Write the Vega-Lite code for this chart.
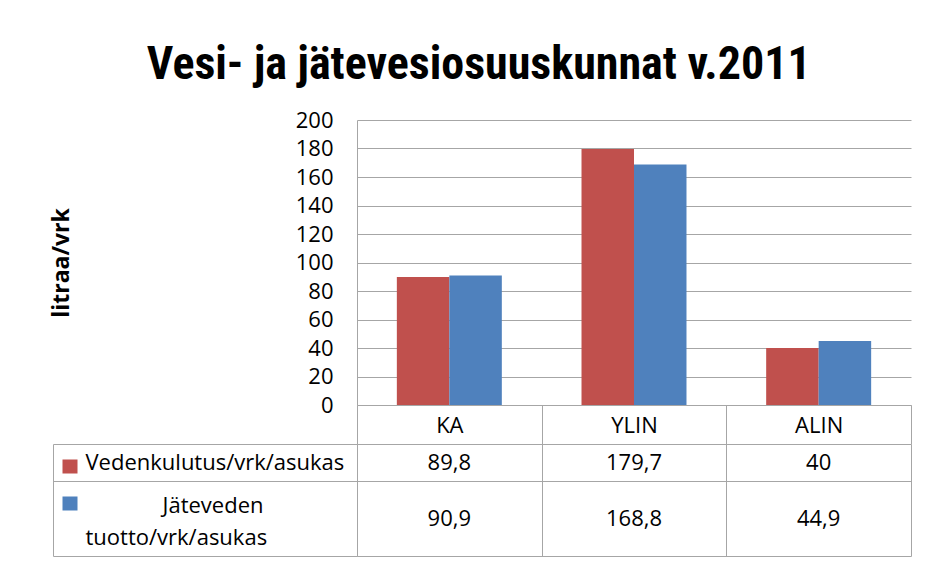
{
  "$schema": "https://vega.github.io/schema/vega-lite/v6.json",
  "padding": {"left": 46, "top": 42, "right": 17, "bottom": 5},
  "background": "white",
  "title": {
    "text": "Vesi- ja jätevesiosuuskunnat v.2011",
    "font": "Liberation Sans Narrow, Roboto Condensed, DejaVu Sans Condensed, Open Sans",
    "fontSize": 46,
    "fontWeight": "bold",
    "color": "#000000",
    "anchor": "middle",
    "offset": 20
  },
  "data": {
    "values": [
      {"kategoria": "KA", "sarja": "Vedenkulutus/vrk/asukas", "arvo": 89.8},
      {"kategoria": "KA", "sarja": "Jäteveden tuotto/vrk/asukas", "arvo": 90.9},
      {"kategoria": "YLIN", "sarja": "Vedenkulutus/vrk/asukas", "arvo": 179.7},
      {"kategoria": "YLIN", "sarja": "Jäteveden tuotto/vrk/asukas", "arvo": 168.8},
      {"kategoria": "ALIN", "sarja": "Vedenkulutus/vrk/asukas", "arvo": 40},
      {"kategoria": "ALIN", "sarja": "Jäteveden tuotto/vrk/asukas", "arvo": 44.9}
    ]
  },
  "bounds": "flush",
  "spacing": 39,
  "vconcat": [
    {
      "width": 554,
      "height": 285,
      "mark": {"type": "bar"},
      "encoding": {
        "x": {
          "field": "kategoria", "type": "nominal", "sort": ["KA", "YLIN", "ALIN"],
          "scale": {"paddingInner": 0, "paddingOuter": 0},
          "axis": {
            "title": null, "labelAngle": 0, "tickBand": "extent", "tickSize": 39,
            "labelPadding": -19, "labelBaseline": "middle"
          }
        },
        "xOffset": {
          "field": "sarja", "type": "nominal", "sort": ["Vedenkulutus/vrk/asukas", "Jäteveden tuotto/vrk/asukas"],
          "scale": {"paddingInner": 0, "paddingOuter": 0.759}
        },
        "y": {
          "field": "arvo", "type": "quantitative",
          "scale": {"domain": [0, 200]},
          "axis": {
            "values": [0, 20, 40, 60, 80, 100, 120, 140, 160, 180, 200],
            "title": "litraa/vrk", "titleFontSize": 23, "titleFontWeight": "bold", "titleColor": "#000000",
            "titlePadding": 222, "ticks": false, "labelPadding": 24, "grid": true
          }
        },
        "color": {
          "field": "sarja", "type": "nominal",
          "scale": {"domain": ["Vedenkulutus/vrk/asukas", "Jäteveden tuotto/vrk/asukas"], "range": ["#C0504D", "#4F81BD"]},
          "legend": null
        }
      }
    },
    {
      "width": 554,
      "height": 112,
      "layer": [
        {
          "transform": [{"filter": "datum.sarja == 'Vedenkulutus/vrk/asukas'"}],
          "mark": {"type": "text", "font": "Open Sans", "fontSize": 22, "color": "#000000"},
          "encoding": {
            "x": {
              "field": "kategoria", "type": "nominal", "sort": ["KA", "YLIN", "ALIN"],
              "scale": {"type": "band", "paddingInner": 0, "paddingOuter": 0},
              "axis": {"title": null, "grid": true, "tickBand": "extent", "labels": false, "ticks": false, "domain": false}
            },
            "y": {
              "field": "sarja", "type": "nominal",
              "scale": {"type": "band", "domain": ["Vedenkulutus/vrk/asukas", "Jäteveden tuotto/vrk/asukas", "tuotto/vrk/asukas"], "paddingInner": 0, "paddingOuter": 0},
              "axis": {
                "title": null, "orient": "left", "offset": 0,
                "tickBand": "extent", "tickSize": 304,
                "tickOpacity": {"condition": {"test": "datum.value === 'Jäteveden tuotto/vrk/asukas'", "value": 0}, "value": 1},
                "grid": true,
                "gridOpacity": {"condition": {"test": "datum.value === 'Jäteveden tuotto/vrk/asukas'", "value": 0}, "value": 1},
                "domain": true,
                "labelAlign": "left", "labelBaseline": "middle", "labelLimit": 400,
                "labelPadding": {"condition": {"test": "datum.value === 'Jäteveden tuotto/vrk/asukas'", "value": -109}, "value": -32},
                "labelOffset": {"condition": {"test": "datum.value === 'Jäteveden tuotto/vrk/asukas'", "value": 5}, "value": 0},
                "labelExpr": "datum.value === 'Jäteveden tuotto/vrk/asukas' ? 'Jäteveden' : datum.label"
              }
            },
            "text": {"field": "arvo", "type": "quantitative", "format": "~g"}
          }
        },
        {
          "transform": [{"filter": "datum.sarja == 'Jäteveden tuotto/vrk/asukas'"}],
          "mark": {"type": "text", "font": "Open Sans", "fontSize": 22, "color": "#000000"},
          "encoding": {
            "x": {
              "field": "kategoria", "type": "nominal", "sort": ["KA", "YLIN", "ALIN"],
              "scale": {"type": "band", "paddingInner": 0, "paddingOuter": 0},
              "axis": {"title": null, "grid": true, "tickBand": "extent", "labels": false, "ticks": false, "domain": false}
            },
            "y": {
              "field": "sarja", "type": "nominal", "bandPosition": 1,
              "axis": {
                "title": null, "orient": "left", "offset": 304,
                "domain": true, "labels": false, "grid": false,
                "ticks": true, "tickSize": -24, "tickWidth": 14, "tickOffset": 3,
                "tickDash": [0, 9, 15, 60],
                "tickColor": {"condition": [
                  {"test": "datum.value === 'Vedenkulutus/vrk/asukas'", "value": "#C0504D"},
                  {"test": "datum.value === 'Jäteveden tuotto/vrk/asukas'", "value": "#4F81BD"}
                ], "value": "transparent"}
              }
            },
            "text": {"field": "arvo", "type": "quantitative", "format": "~g"}
          }
        }
      ],
      "resolve": {"axis": {"y": "independent"}}
    }
  ],
  "config": {
    "view": {"stroke": null},
    "axis": {
      "labelFont": "Open Sans", "labelFontSize": 22, "labelColor": "#000000",
      "titleFont": "Open Sans",
      "gridColor": "#a6a6a6", "domainColor": "#a6a6a6", "tickColor": "#a6a6a6"
    },
    "locale": {"number": {"decimal": ",", "thousands": " ", "grouping": [3], "currency": ["", " €"]}}
  }
}
